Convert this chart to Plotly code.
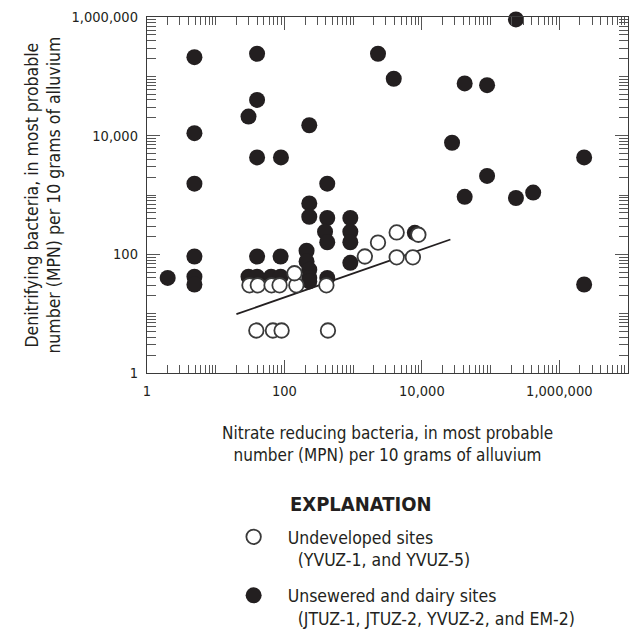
import plotly.graph_objects as go

# ---- data ----
filled_x = [2, 4.9, 4.9, 4.9, 4.9, 4.9, 4.9, 40, 40, 30, 40, 89, 40, 88,
            30, 40, 64, 88, 420, 230, 230, 230, 210, 210, 230, 230, 230,
            420, 420, 390, 420, 910, 910, 910, 910, 2300, 3900, 7900, 27500,
            42000, 42000, 89000, 89000, 234000, 234000, 417000, 2.3e6, 2.3e6]
filled_y = [40, 2.1e5, 11000, 1550, 92, 42, 31, 2.4e5, 40000, 21000, 4300, 4300, 92, 92,
            42, 42, 42, 42, 40, 15000, 720, 430, 115, 76, 55, 40, 35,
            1550, 410, 240, 160, 410, 240, 160, 72, 2.4e5, 91000, 230, 7600,
            76000, 930, 71000, 2100, 910000, 890, 1100, 4300, 31]

open_x = [31, 41, 65, 85, 149, 408, 140, 39, 68, 91, 430, 1480, 2300, 4300, 4300, 8900, 7400]
open_y = [30, 30, 30, 30, 30, 30, 48, 5.2, 5.2, 5.2, 5.2, 92, 158, 234, 89, 214, 89]

trend_x = [20, 26000]
trend_y = [9.8, 178]

major_vals = [1, 100, 10000, 1000000]
major_text = ["1", "100", "10,000", "1,000,000"]
minor_x = [m * 10 ** d for d in range(0, 7) for m in range(1, 10) if not (m == 1 and d % 2 == 0)]
minor_y = [m * 10 ** d for d in range(0, 6) for m in range(1, 10) if not (m == 1 and d % 2 == 0)]

FONT = "DejaVu Sans Condensed, Liberation Sans Narrow, Liberation Sans, sans-serif"
INK = "#231f20"

fig = go.Figure()

fig.add_trace(go.Scatter(
    x=trend_x, y=trend_y, mode="lines",
    line=dict(color=INK, width=1.8), showlegend=False, hoverinfo="skip"))

fig.add_trace(go.Scatter(
    x=filled_x, y=filled_y, mode="markers",
    name="Unsewered and dairy sites<br>&#160;&#160;(JTUZ-1, JTUZ-2, YVUZ-2, and EM-2)",
    marker=dict(size=16, color=INK, line=dict(width=0)),
    cliponaxis=False, legendrank=2, legendgroup="b"))

fig.add_trace(go.Scatter(
    x=open_x, y=open_y, mode="markers",
    name="Undeveloped sites<br>&#160;&#160;(YVUZ-1, and YVUZ-5)",
    marker=dict(size=14.5, color="white", line=dict(width=1.8, color="#3a3a3a")),
    cliponaxis=False, legendrank=1, legendgroup="a"))

axis_common = dict(
    type="log", showgrid=False, zeroline=False,
    showline=True, linecolor="#3a3a3a", linewidth=1.3, mirror="ticks",
    ticks="inside", ticklen=13, tickwidth=1, tickcolor="#555555",
    tickmode="array", tickvals=major_vals, ticktext=major_text,
    tickfont=dict(family=FONT, size=14.5, color=INK),
)

fig.update_xaxes(
    range=[0, 7],
    minor=dict(tickmode="array", tickvals=minor_x, ticks="inside", ticklen=8,
               tickcolor="#555555", tickwidth=1, showgrid=False),
    ticklabelstandoff=4,
    **axis_common)
fig.update_yaxes(
    range=[0, 6],
    minor=dict(tickmode="array", tickvals=minor_y, ticks="inside", ticklen=9,
               tickcolor="#555555", tickwidth=1, showgrid=False),
    ticklabelstandoff=5,
    **axis_common)

fig.add_annotation(
    text="Nitrate reducing bacteria, in most probable<br>number (MPN) per 10 grams of alluvium",
    xref="paper", yref="paper", x=0.5, y=-0.2, xanchor="center", yanchor="middle",
    showarrow=False, font=dict(family=FONT, size=17, color=INK), align="center")

fig.add_annotation(
    text="Denitrifying bacteria, in most probable<br>number (MPN) per 10 grams of alluvium",
    xref="paper", yref="paper", x=-0.217, y=0.5, xanchor="center", yanchor="middle",
    textangle=-90, showarrow=False, font=dict(family=FONT, size=17.5, color=INK), align="center")

fig.add_annotation(
    text="<b>EXPLANATION</b>",
    xref="paper", yref="paper", x=0.444, y=-0.369, xanchor="center", yanchor="middle",
    showarrow=False, font=dict(family=FONT, size=20, color=INK))

fig.update_layout(
    width=631, height=629,
    margin=dict(l=147, r=3, t=17, b=256, autoexpand=False),
    plot_bgcolor="white", paper_bgcolor="white",
    showlegend=True,
    legend=dict(x=0.151, y=-0.41, xanchor="left", yanchor="top",
                font=dict(family=FONT, size=17.5, color=INK),
                bgcolor="rgba(0,0,0,0)", valign="top", tracegroupgap=10,
                itemwidth=58, traceorder="grouped"),
)

fig.write_html("out.html")
